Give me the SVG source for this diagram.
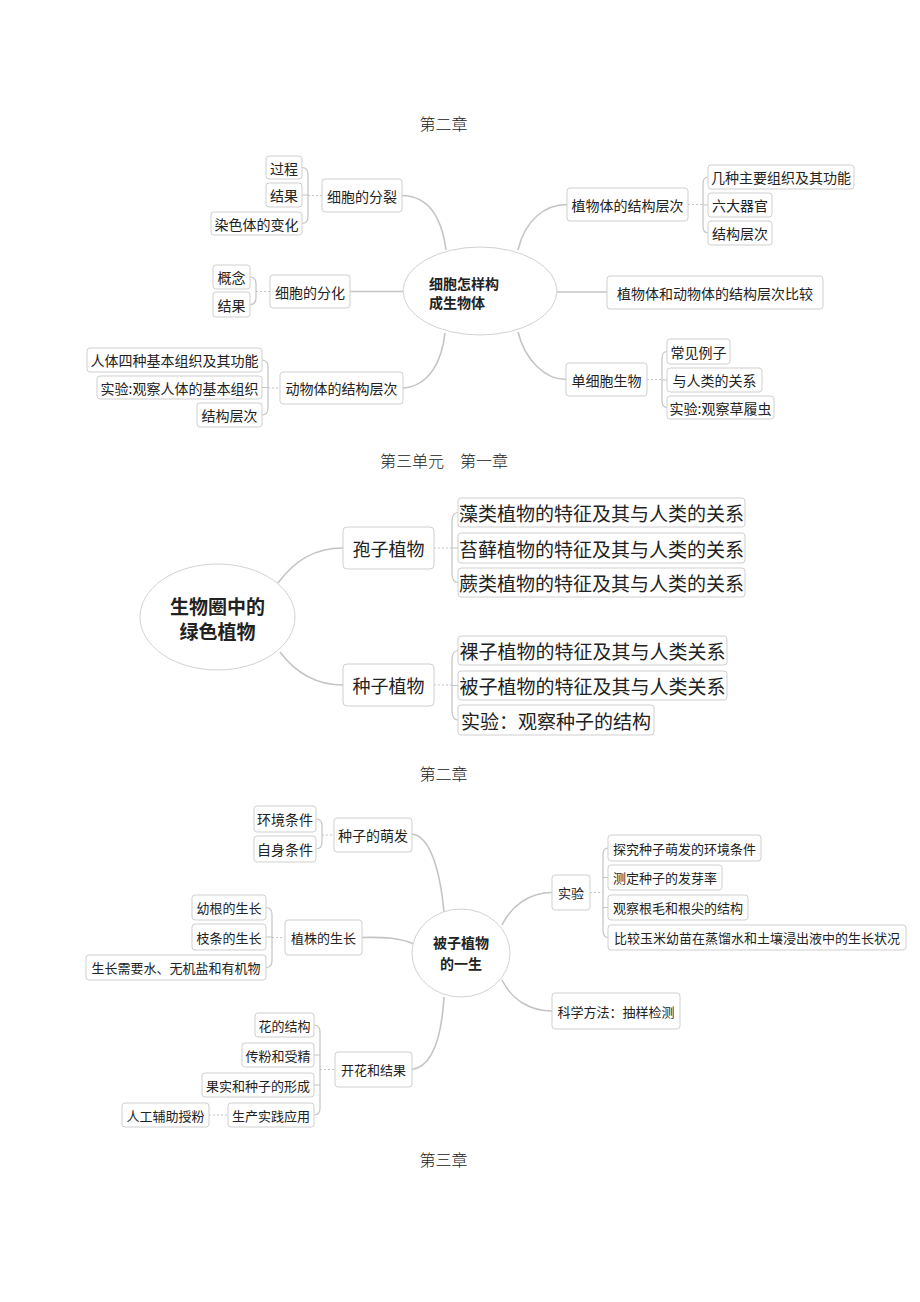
<svg xmlns="http://www.w3.org/2000/svg" width="920" height="1302" viewBox="0 0 920 1302">
<style>
.bg{fill:#ffffff}
.box{fill:#ffffff;stroke:#cfcfcf;stroke-width:1}
.ell{fill:#ffffff;stroke:#d2d2d2;stroke-width:1}
.t{font-family:"Noto Sans CJK SC","Liberation Sans",sans-serif;fill:#222;text-anchor:middle;dominant-baseline:central}
.s14{font-size:14px}
.s13{font-size:13px}
.s18{font-size:18px}
.s19{font-size:19px}
.b{font-weight:bold}
.ttl{font-family:"Liberation Serif","Noto Sans CJK SC",serif;font-size:16px;fill:#222;text-anchor:middle;dominant-baseline:central;font-weight:300}
.c{fill:none;stroke:#c4c4c4;stroke-width:1.6}
.br{fill:none;stroke:#c4c4c4;stroke-width:1.2}
.d{fill:none;stroke:#c4c4c4;stroke-width:1.2;stroke-dasharray:2 2}
</style>
<rect class="bg" x="0" y="0" width="920" height="1302"/>

<g id="titles">
<text class="ttl" x="443.5" y="124">第二章</text>
<text class="ttl" x="444" y="461">第三单元　第一章</text>
<text class="ttl" x="443.5" y="774">第二章</text>
<text class="ttl" x="443.5" y="1160">第三章</text>
</g>

<g id="connectors">
<!-- section 1 main -->
<path class="c" d="M402,195.5 C430,196 442,220 446,250"/>
<path class="c" d="M350,291.5 L403,291.5"/>
<path class="c" d="M403,388 C430,386 442,360 445,333"/>
<path class="c" d="M518,250 C525,220 545,204.5 567,204.5"/>
<path class="c" d="M557,292 L607,292"/>
<path class="c" d="M518,332 C525,360 545,379.5 566,379.5"/>
<!-- section 1 brackets -->
<path class="br" d="M302,167.5 Q308,167.5 308,175 L308,216 Q308,223.5 302,223.5 M302,195 L308,195"/>
<path class="d" d="M308,195.5 L322,195.5"/>
<path class="br" d="M250,277 Q256,277 256,284 L256,297.5 Q256,304.5 250,304.5"/>
<path class="d" d="M256,291.5 L270,291.5"/>
<path class="br" d="M262,360 Q268,360 268,367 L268,408 Q268,415 262,415 M262,387.5 L268,387.5"/>
<path class="d" d="M268,388 L280,388"/>
<path class="br" d="M708,177 Q703,177 703,184 L703,226 Q703,233 708,233 M703,205 L708,205"/>
<path class="d" d="M688,204.5 L703,204.5"/>
<path class="br" d="M667,351.5 Q662,351.5 662,358.5 L662,400.5 Q662,407.5 667,407.5 M662,380 L667,380"/>
<path class="d" d="M647,379.5 L662,379.5"/>
<!-- section 2 -->
<path class="c" d="M278,583 C295,560 315,548 343,548"/>
<path class="c" d="M280,652 C295,672 315,685 343,685"/>
<path class="br" d="M458,512.5 Q452,512.5 452,522 L452,573 Q452,582.5 458,582.5 M452,548 L458,548"/>
<path class="d" d="M434,548 L452,548"/>
<path class="br" d="M458,650.5 Q452,650.5 452,660 L452,710.5 Q452,720 458,720 M452,685.5 L458,685.5"/>
<path class="d" d="M434,685 L452,685"/>
<!-- section 3 main -->
<path class="c" d="M412,834 C430,836 440,870 444,912"/>
<path class="c" d="M362,937.5 C385,937 400,938 414,944"/>
<path class="c" d="M412,1069.5 C435,1066 442,1030 444,997"/>
<path class="c" d="M502,925 C512,905 530,892.5 552,892.5"/>
<path class="c" d="M502,980 C512,1000 530,1011 552,1011"/>
<!-- section 3 brackets -->
<path class="br" d="M316,819 Q322,819 322,826 L322,842 Q322,849 316,849"/>
<path class="d" d="M322,835 L334,835"/>
<path class="br" d="M266,907.5 Q272,907.5 272,914.5 L272,960.5 Q272,967.5 266,967.5 M266,937 L272,937"/>
<path class="d" d="M272,937.5 L285,937.5"/>
<path class="br" d="M608,848 Q603,848 603,855 L603,930.5 Q603,937.5 608,937.5 M603,877.5 L608,877.5 M603,907.5 L608,907.5"/>
<path class="d" d="M590,892.5 L603,892.5"/>
<path class="br" d="M314,1025 Q320,1025 320,1032 L320,1108 Q320,1115 314,1115 M314,1055 L320,1055 M314,1085 L320,1085"/>
<path class="d" d="M320,1069.5 L335,1069.5"/>
<path class="d" d="M209,1115 L228,1115"/>
</g>

<!-- Section 1 -->
<g id="s1_center">
<ellipse class="ell" cx="480" cy="291" rx="77" ry="44"/>
<text class="t s14 b" x="429" y="283" style="text-anchor:start">细胞怎样构</text>
<text class="t s14 b" x="429" y="302" style="text-anchor:start">成生物体</text>
</g>
<g id="n_fenlie"><rect class="box" x="322" y="179" width="80" height="33" rx="3"/><text class="t s14" x="362" y="195.5">细胞的分裂</text></g>
<g id="n_guocheng"><rect class="box" x="266" y="156" width="36" height="23" rx="3"/><text class="t s14" x="284" y="167.5">过程</text></g>
<g id="n_jieguo1"><rect class="box" x="266" y="183" width="36" height="24" rx="3"/><text class="t s14" x="284" y="195">结果</text></g>
<g id="n_ranse"><rect class="box" x="211" y="212" width="91" height="23" rx="3"/><text class="t s14" x="256.5" y="223.5">染色体的变化</text></g>
<g id="n_fenhua"><rect class="box" x="270" y="275" width="80" height="33" rx="3"/><text class="t s14" x="310" y="291.5">细胞的分化</text></g>
<g id="n_gainian"><rect class="box" x="213" y="265" width="37" height="24" rx="3"/><text class="t s14" x="231.5" y="277">概念</text></g>
<g id="n_jieguo2"><rect class="box" x="213" y="292" width="37" height="25" rx="3"/><text class="t s14" x="231.5" y="304.5">结果</text></g>
<g id="n_dongwu"><rect class="box" x="280" y="372" width="123" height="32" rx="3"/><text class="t s14" x="341.5" y="388">动物体的结构层次</text></g>
<g id="n_renti"><rect class="box" x="87" y="348" width="175" height="24" rx="3"/><text class="t s14" x="174.5" y="360">人体四种基本组织及其功能</text></g>
<g id="n_shiyan1"><rect class="box" x="97" y="376" width="165" height="23" rx="3"/><text class="t s14" x="179.5" y="387.5">实验:观察人体的基本组织</text></g>
<g id="n_jiegou1"><rect class="box" x="197" y="403" width="65" height="24" rx="3"/><text class="t s14" x="229.5" y="415">结构层次</text></g>
<g id="n_zhiwu"><rect class="box" x="567" y="188" width="121" height="33" rx="3"/><text class="t s14" x="627.5" y="204.5">植物体的结构层次</text></g>
<g id="n_jizhong"><rect class="box" x="708" y="165" width="146" height="24" rx="3"/><text class="t s14" x="781" y="177">几种主要组织及其功能</text></g>
<g id="n_liuda"><rect class="box" x="708" y="193" width="64" height="24" rx="3"/><text class="t s14" x="740" y="205">六大器官</text></g>
<g id="n_jiegou2"><rect class="box" x="708" y="221" width="64" height="24" rx="3"/><text class="t s14" x="740" y="233">结构层次</text></g>
<g id="n_bijiao"><rect class="box" x="607" y="276" width="216" height="33" rx="3"/><text class="t s14" x="715" y="292.5">植物体和动物体的结构层次比较</text></g>
<g id="n_danxibao"><rect class="box" x="566" y="363" width="81" height="33" rx="3"/><text class="t s14" x="606.5" y="379.5">单细胞生物</text></g>
<g id="n_changjian"><rect class="box" x="667" y="339" width="63" height="25" rx="3"/><text class="t s14" x="698.5" y="351.5">常见例子</text></g>
<g id="n_guanxi"><rect class="box" x="667" y="368" width="95" height="24" rx="3"/><text class="t s14" x="714.5" y="380">与人类的关系</text></g>
<g id="n_caolv"><rect class="box" x="667" y="396" width="107" height="23" rx="3"/><text class="t s14" x="720.5" y="407.5">实验:观察草履虫</text></g>

<!-- Section 2 -->
<g id="s2_center">
<ellipse class="ell" cx="217.5" cy="617" rx="77.5" ry="53"/>
<text class="t s19 b" x="217.5" y="605">生物圈中的</text>
<text class="t s19 b" x="217.5" y="630">绿色植物</text>
</g>
<g id="n_baozi"><rect class="box" x="343" y="527" width="91" height="42" rx="4"/><text class="t s18" x="388.5" y="548">孢子植物</text></g>
<g id="n_zhongzi"><rect class="box" x="343" y="664" width="91" height="42" rx="4"/><text class="t s18" x="388.5" y="685">种子植物</text></g>
<g id="n_zaolei"><rect class="box" x="458" y="498" width="287" height="29" rx="3"/><text class="t s19" x="601.5" y="512.5">藻类植物的特征及其与人类的关系</text></g>
<g id="n_taixian"><rect class="box" x="458" y="533" width="287" height="30" rx="3"/><text class="t s19" x="601.5" y="548">苔藓植物的特征及其与人类的关系</text></g>
<g id="n_juelei"><rect class="box" x="458" y="568" width="287" height="29" rx="3"/><text class="t s19" x="601.5" y="582.5">蕨类植物的特征及其与人类的关系</text></g>
<g id="n_luozi"><rect class="box" x="458" y="636" width="269" height="29" rx="3"/><text class="t s19" x="592.5" y="650.5">裸子植物的特征及其与人类关系</text></g>
<g id="n_beizi"><rect class="box" x="458" y="671" width="269" height="29" rx="3"/><text class="t s19" x="592.5" y="685.5">被子植物的特征及其与人类关系</text></g>
<g id="n_shiyan2"><rect class="box" x="458" y="705" width="196" height="30" rx="3"/><text class="t s19" x="556" y="720">实验：观察种子的结构</text></g>

<!-- Section 3 -->
<g id="s3_center">
<ellipse class="ell" cx="461" cy="953" rx="49" ry="44"/>
<text class="t s14 b" x="461" y="942">被子植物</text>
<text class="t s14 b" x="461" y="963">的一生</text>
</g>
<g id="n_mengfa"><rect class="box" x="334" y="818" width="78" height="34" rx="3"/><text class="t s14" x="373" y="835">种子的萌发</text></g>
<g id="n_huanjing"><rect class="box" x="254" y="806" width="62" height="26" rx="3"/><text class="t s14" x="285" y="819">环境条件</text></g>
<g id="n_zishen"><rect class="box" x="254" y="836" width="62" height="26" rx="3"/><text class="t s14" x="285" y="849">自身条件</text></g>
<g id="n_zhizhu"><rect class="box" x="285" y="920" width="77" height="35" rx="3"/><text class="t s13" x="323.5" y="937.5">植株的生长</text></g>
<g id="n_yougen"><rect class="box" x="192" y="895" width="74" height="25" rx="3"/><text class="t s13" x="229" y="907.5">幼根的生长</text></g>
<g id="n_zhitiao"><rect class="box" x="192" y="924" width="74" height="26" rx="3"/><text class="t s13" x="229" y="937">枝条的生长</text></g>
<g id="n_xuyao"><rect class="box" x="86" y="955" width="180" height="25" rx="3"/><text class="t s13" x="176" y="967.5">生长需要水、无机盐和有机物</text></g>
<g id="n_shiyan3"><rect class="box" x="552" y="875" width="38" height="35" rx="3"/><text class="t s13" x="571" y="892.5">实验</text></g>
<g id="n_tanjiu"><rect class="box" x="608" y="835" width="153" height="26" rx="3"/><text class="t s13" x="684.5" y="848">探究种子萌发的环境条件</text></g>
<g id="n_ceding"><rect class="box" x="608" y="865" width="114" height="25" rx="3"/><text class="t s13" x="665" y="877.5">测定种子的发芽率</text></g>
<g id="n_guancha"><rect class="box" x="608" y="895" width="140" height="25" rx="3"/><text class="t s13" x="678" y="907.5">观察根毛和根尖的结构</text></g>
<g id="n_bijiao2"><rect class="box" x="608" y="925" width="298" height="25" rx="3"/><text class="t s13" x="757" y="937.5">比较玉米幼苗在蒸馏水和土壤浸出液中的生长状况</text></g>
<g id="n_kexue"><rect class="box" x="552" y="993" width="128" height="36" rx="3"/><text class="t s13" x="616" y="1011">科学方法：抽样检测</text></g>
<g id="n_kaihua"><rect class="box" x="335" y="1052" width="77" height="35" rx="3"/><text class="t s13" x="373.5" y="1069.5">开花和结果</text></g>
<g id="n_huade"><rect class="box" x="255" y="1013" width="59" height="24" rx="3"/><text class="t s13" x="284.5" y="1025">花的结构</text></g>
<g id="n_chuanfen"><rect class="box" x="242" y="1043" width="72" height="24" rx="3"/><text class="t s13" x="278" y="1055">传粉和受精</text></g>
<g id="n_guoshi"><rect class="box" x="202" y="1073" width="112" height="24" rx="3"/><text class="t s13" x="258" y="1085">果实和种子的形成</text></g>
<g id="n_shengchan"><rect class="box" x="228" y="1103" width="86" height="24" rx="3"/><text class="t s13" x="271" y="1115">生产实践应用</text></g>
<g id="n_rengong"><rect class="box" x="122" y="1103" width="87" height="24" rx="3"/><text class="t s13" x="165.5" y="1115">人工辅助授粉</text></g>
</svg>
